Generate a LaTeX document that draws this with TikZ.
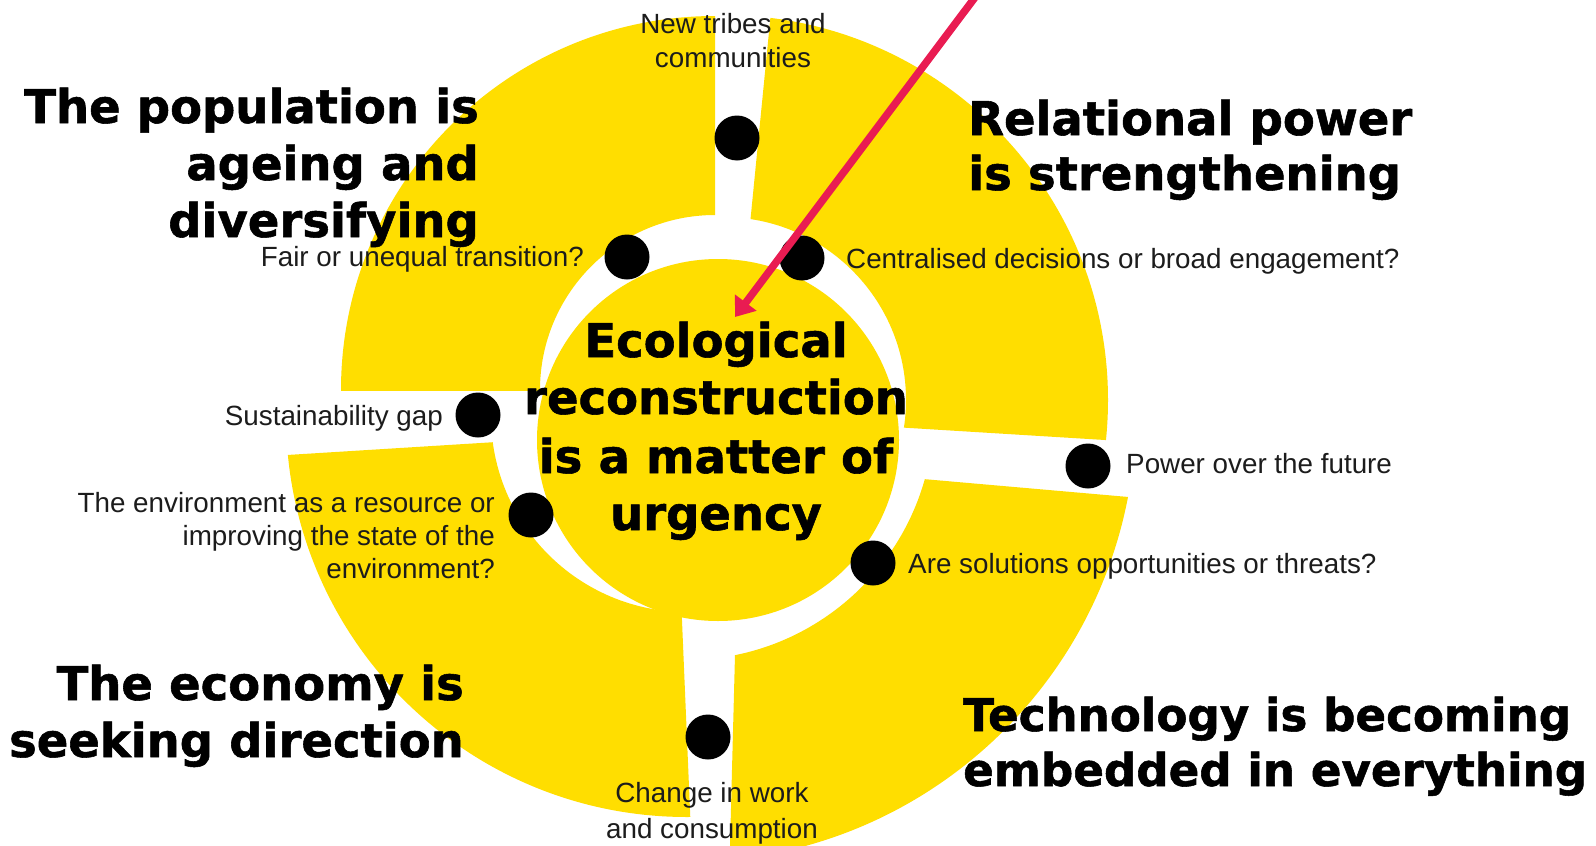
\documentclass[tikz,border=0pt]{standalone}
\usepackage{fontspec}
\setmainfont{Liberation Sans}
\newfontfamily\heavyfont{DejaVu Sans}[BoldFeatures={FakeBold=1.2}]
\usetikzlibrary{arrows.meta}
\definecolor{ringyellow}{RGB}{255,222,0}
\definecolor{arrowred}{RGB}{233,28,82}
\definecolor{smallink}{RGB}{28,28,28}
\begin{document}
\begin{tikzpicture}[x=1pt,y=-1pt,
  quad/.style={fill=ringyellow, even odd rule},
  core/.style={circle, fill=ringyellow, minimum size=362pt, inner sep=0pt},
  dot/.style={circle, fill=black, minimum size=45pt, inner sep=0pt},
  bigtext/.style={font=\heavyfont\bfseries\fontsize{46.5}{57}\selectfont, inner sep=0pt, text=black},
  techtext/.style={font=\heavyfont\bfseries\fontsize{45.2}{57}\selectfont, inner sep=0pt, text=black},
  smalltxt/.style={font=\fontsize{27.8}{34}\selectfont, inner sep=0pt, text=smallink},
  pointer/.style={draw=arrowred, line width=7.5pt, -{Triangle[length=18pt,width=26pt]}, arrowred}
]
\useasboundingbox (0,0) rectangle (1596,846);
\fill[white] (0,0) rectangle (1596,846);

% top-left quadrant
\begin{scope}
  \clip (715,390) rectangle (-10,-10);
  \fill[quad] (715,390) circle[radius=374pt] (715,390) circle[radius=175pt];
\end{scope}
% top-right quadrant
\begin{scope}
  \clip (782,-100) -- (1300,-100) -- (1300,452) -- (731,417) -- cycle;
  \fill[quad] (723,400) circle[radius=385pt] (723,400) circle[radius=183pt];
\end{scope}
% bottom-left quadrant
\begin{scope}
  \clip (-100,479) -- (674,431) -- (698,1000) -- (-100,1000) -- cycle;
  \fill[quad] (687,416) circle[radius=401pt] (687,416) circle[radius=196pt];
\end{scope}
% bottom-right quadrant
\begin{scope}
  \clip (740,463) -- (1300,512) -- (1300,1000) -- (726,1000) -- cycle;
  \fill[quad] (686,412) circle[radius=450pt] (686,412) circle[radius=248pt];
\end{scope}

% central circle
\node[core] (centre) at (718,440) {};

% dots
\node[dot] (dtribes) at (737,138) {};
\node[dot] (dfair) at (627,257) {};
\node[dot] (dcentral) at (802,258) {};
\node[dot] (dsust) at (478,415) {};
\node[dot] (denv) at (531,515) {};
\node[dot] (dpower) at (1088,466) {};
\node[dot] (dsol) at (873,563) {};
\node[dot] (dchange) at (708,737) {};

% big labels
\node[bigtext, anchor=base east] (pop1) at (479,123) {The population is};
\node[bigtext, anchor=base east] (pop2) at (479,180) {ageing and};
\node[bigtext, anchor=base east] (pop3) at (479,237) {diversifying};
\node[bigtext, anchor=base west] (rel1) at (968,135) {Relational power};
\node[bigtext, anchor=base west] (rel2) at (968,190) {is strengthening};
\node[bigtext, anchor=base east] (econ1) at (464,700) {The economy is};
\node[bigtext, anchor=base east] (econ2) at (464,757) {seeking direction};
\node[techtext, anchor=base west] (tech1) at (963,731) {Technology is becoming};
\node[techtext, anchor=base west] (tech2) at (963,786) {embedded in everything};
\node[bigtext, anchor=base] (eco1) at (716,357) {Ecological};
\node[bigtext, anchor=base] (eco2) at (716,414) {reconstruction};
\node[bigtext, anchor=base] (eco3) at (716,473) {is a matter of};
\node[bigtext, anchor=base] (eco4) at (716,530) {urgency};

% small labels
\node[smalltxt, anchor=base] (tribes1) at (733,33) {New tribes and};
\node[smalltxt, anchor=base] (tribes2) at (733,67) {communities};
\node[smalltxt, anchor=base east] (fair) at (584,266) {Fair or unequal transition?};
\node[smalltxt, anchor=base west] (centralised) at (846,268) {Centralised decisions or broad engagement?};
\node[smalltxt, anchor=base east] (sust) at (443,425) {Sustainability gap};
\node[smalltxt, anchor=base east] (env1) at (495,512) {The environment as a resource or};
\node[smalltxt, anchor=base east] (env2) at (495,545) {improving the state of the};
\node[smalltxt, anchor=base east] (env3) at (495,578) {environment?};
\node[smalltxt, anchor=base west] (power) at (1126,473) {Power over the future};
\node[smalltxt, anchor=base west] (sol) at (908,573) {Are solutions opportunities or threats?};
\node[smalltxt, anchor=base] (change1) at (712,802) {Change in work};
\node[smalltxt, anchor=base] (change2) at (712,838) {and consumption};

% arrow
\coordinate (arrowstart) at (976,-4);
\coordinate (arrowtip) at (735,317);
\draw[pointer] (arrowstart) -- (arrowtip);
\end{tikzpicture}
\end{document}
